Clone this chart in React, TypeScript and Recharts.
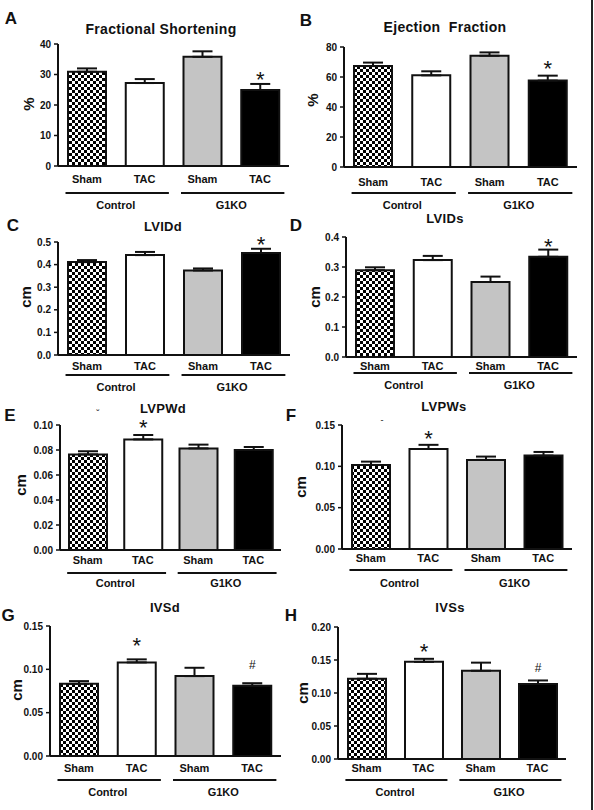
import { BarChart, Bar, XAxis, YAxis, ErrorBar, Cell, LabelList } from "recharts";

// shared categories
const conditions = ["Sham", "TAC", "Sham", "TAC"];
const genotypes = ["Control", "Control", "G1KO", "G1KO"];

// A - fractional shortening (%)
const fsMean = [30.9, 27.2, 35.8, 24.9];
const fsSem = [1.1, 1.3, 1.8, 2.0];
const fsMarks = ["", "", "", "*"];
const fsTicks = [0, 10, 20, 30, 40];

// B - ejection fraction (%)
const efMean = [67.3, 61.1, 74.2, 57.6];
const efSem = [2.3, 2.7, 2.2, 3.3];
const efMarks = ["", "", "", "*"];
const efTicks = [0, 20, 40, 60, 80];

// C - LVIDd (cm)
const lviddMean = [0.411, 0.442, 0.374, 0.451];
const lviddSem = [0.009, 0.014, 0.009, 0.019];
const lviddMarks = ["", "", "", "*"];
const lviddTicks = [0, 0.1, 0.2, 0.3, 0.4, 0.5];

// D - LVIDs (cm)
const lvidsMean = [0.289, 0.323, 0.25, 0.334];
const lvidsSem = [0.01, 0.014, 0.018, 0.024];
const lvidsMarks = ["", "", "", "*"];
const lvidsTicks = [0, 0.1, 0.2, 0.3, 0.4];

// E - LVPWd (cm)
const lvpwdMean = [0.0765, 0.0885, 0.0813, 0.08];
const lvpwdSem = [0.0025, 0.0035, 0.003, 0.0024];
const lvpwdMarks = ["", "*", "", ""];
const lvpwdTicks = [0, 0.02, 0.04, 0.06, 0.08, 0.1];

// F - LVPWs (cm)
const lvpwsMean = [0.1017, 0.121, 0.1078, 0.113];
const lvpwsSem = [0.004, 0.005, 0.004, 0.0044];
const lvpwsMarks = ["", "*", "", ""];
const lvpwsTicks = [0, 0.05, 0.1, 0.15];

// G - IVSd (cm)
const ivsdMean = [0.0833, 0.108, 0.0922, 0.081];
const ivsdSem = [0.0031, 0.0035, 0.0096, 0.003];
const ivsdMarks = ["", "*", "", "#"];
const ivsdTicks = [0, 0.05, 0.1, 0.15];

// H - IVSs (cm)
const ivssMean = [0.1216, 0.1472, 0.1337, 0.1136];
const ivssSem = [0.0074, 0.0046, 0.0123, 0.0054];
const ivssMarks = ["", "*", "", "#"];
const ivssTicks = [0, 0.05, 0.1, 0.15, 0.2];

const fills = ["url(#checker)", "#ffffff", "#c4c4c4", "#000000"];
const FONT = '"Liberation Sans", Arial, sans-serif';
const INK = "#111";

interface PanelSpec {
  letter: string;
  title: string;
  unit: string;
  mean: number[];
  sem: number[];
  marks: string[];
  ticks: number[];
  decimals: number;
  px: number;
  py: number;
  axisX: number;
  top: number;
  bottom: number;
  right: number;
  labelDy: number;
  lineDy: number;
  groupDy: number;
  markGap: number;
  letterPos: [number, number];
  titlePos: [number, number];
  unitPos: [number, number];
  titleSize: number;
}

const panels: PanelSpec[] = [
  {
    letter: "A", title: "Fractional Shortening", unit: "%",
    mean: fsMean, sem: fsSem, marks: fsMarks, ticks: fsTicks, decimals: 0,
    px: 0, py: 0, axisX: 58, top: 44, bottom: 166, right: 289,
    labelDy: 13, lineDy: 27, groupDy: 39, markGap: 9,
    letterPos: [11, 18], titlePos: [161, 29], unitPos: [28, 104], titleSize: 14,
  },
  {
    letter: "B", title: "Ejection  Fraction", unit: "%",
    mean: efMean, sem: efSem, marks: efMarks, ticks: efTicks, decimals: 0,
    px: 297, py: 0, axisX: 344, top: 47, bottom: 167, right: 577,
    labelDy: 15, lineDy: 26, groupDy: 38, markGap: 12,
    letterPos: [306, 20], titlePos: [445, 27], unitPos: [312, 100], titleSize: 14,
  },
  {
    letter: "C", title: "LVIDd", unit: "cm",
    mean: lviddMean, sem: lviddSem, marks: lviddMarks, ticks: lviddTicks, decimals: 1,
    px: 0, py: 200, axisX: 58, top: 242, bottom: 355, right: 290,
    labelDy: 11, lineDy: 20, groupDy: 32, markGap: 9,
    letterPos: [13, 225], titlePos: [163, 226], unitPos: [25, 297], titleSize: 13,
  },
  {
    letter: "D", title: "LVIDs", unit: "cm",
    mean: lvidsMean, sem: lvidsSem, marks: lvidsMarks, ticks: lvidsTicks, decimals: 1,
    px: 297, py: 200, axisX: 346, top: 237, bottom: 357, right: 577,
    labelDy: 9, lineDy: 16, groupDy: 28, markGap: 8,
    letterPos: [296, 225], titlePos: [445, 218], unitPos: [314, 297], titleSize: 13,
  },
  {
    letter: "E", title: "LVPWd", unit: "cm",
    mean: lvpwdMean, sem: lvpwdSem, marks: lvpwdMarks, ticks: lvpwdTicks, decimals: 2,
    px: 0, py: 400, axisX: 60, top: 425, bottom: 550, right: 281,
    labelDy: 10, lineDy: 23, groupDy: 33, markGap: 12,
    letterPos: [10, 415], titlePos: [163, 408], unitPos: [20, 485], titleSize: 13,
  },
  {
    letter: "F", title: "LVPWs", unit: "cm",
    mean: lvpwsMean, sem: lvpwsSem, marks: lvpwsMarks, ticks: lvpwsTicks, decimals: 2,
    px: 297, py: 400, axisX: 342, top: 425, bottom: 549, right: 572,
    labelDy: 9, lineDy: 21, groupDy: 34, markGap: 11,
    letterPos: [291, 415], titlePos: [444, 406], unitPos: [300, 487], titleSize: 13,
  },
  {
    letter: "G", title: "IVSd", unit: "cm",
    mean: ivsdMean, sem: ivsdSem, marks: ivsdMarks, ticks: ivsdTicks, decimals: 2,
    px: 0, py: 600, axisX: 50, top: 626, bottom: 756, right: 281,
    labelDy: 12, lineDy: 24, groupDy: 36, markGap: 18,
    letterPos: [8, 615], titlePos: [165, 607], unitPos: [16, 690], titleSize: 13,
  },
  {
    letter: "H", title: "IVSs", unit: "cm",
    mean: ivssMean, sem: ivssSem, marks: ivssMarks, ticks: ivssTicks, decimals: 2,
    px: 297, py: 600, axisX: 338, top: 627, bottom: 759, right: 566,
    labelDy: 9, lineDy: 21, groupDy: 33, markGap: 12,
    letterPos: [291, 615], titlePos: [450, 607], unitPos: [302, 693], titleSize: 13,
  },
];

const W = 297;
const H = 215;
const YW = 40;

function Panel({ p }: { p: PanelSpec }) {
  const data = conditions.map((c, i) => ({
    key: `${c}-${i}`,
    label: c,
    group: genotypes[i],
    value: p.mean[i],
    sem: p.sem[i],
    err: [0, p.sem[i]],
    mark: p.marks[i],
  }));
  const margin = { top: p.top - p.py, right: p.px + W - p.right, bottom: 0, left: p.axisX - p.px - YW };
  const band = (p.right - p.axisX) / data.length;
  const base = p.bottom - p.py;
  const maxTick = p.ticks[p.ticks.length - 1];

  const renderTick = (t: any) => {
    const i = t.index ?? t.payload?.index ?? 0;
    const x = Number(t.x);
    const d = data[i];
    return (
      <g key={`tick-${i}`}>
        <text x={x} y={base + p.labelDy} textAnchor="middle" dominantBaseline="central"
          fontFamily={FONT} fontWeight="bold" fontSize={11} fill={INK}>
          {d.label}
        </text>
        {i % 2 === 0 && (
          <>
            <line x1={x - band * 0.37} x2={x + band * 1.42} y1={base + p.lineDy} y2={base + p.lineDy}
              stroke={INK} strokeWidth={2} />
            <text x={x + band / 2} y={base + p.groupDy} textAnchor="middle" dominantBaseline="central"
              fontFamily={FONT} fontWeight="bold" fontSize={11} fill={INK}>
              {d.group}
            </text>
          </>
        )}
      </g>
    );
  };

  // significance marks sit a fixed gap above the error-bar cap
  const renderMark = (lp: any) => {
    const i = lp.index ?? 0;
    const d = data[i];
    if (!d || !d.mark) return null;
    const x = Number(lp.x) + Number(lp.width) / 2;
    const y = Number(lp.y);
    const h = Number(lp.height);
    const capY = y - (d.sem / d.value) * h;
    const cy = capY - p.markGap;
    if (d.mark === "*") {
      return (
        <text key={`m-${i}`} x={x} y={cy + 12} textAnchor="middle" fontFamily={FONT} fontSize={22} fill={INK}>
          *
        </text>
      );
    }
    return (
      <text key={`m-${i}`} x={x} y={cy + 4} textAnchor="middle" fontFamily={FONT} fontSize={12} fill={INK}>
        {d.mark}
      </text>
    );
  };

  const textStyle = (left: number, top: number, size: number): React.CSSProperties => ({
    position: "absolute",
    left,
    top,
    transform: "translate(-50%, -50%)",
    fontFamily: FONT,
    fontWeight: "bold",
    fontSize: size,
    lineHeight: 1,
    color: INK,
    whiteSpace: "pre",
  });

  return (
    <>
      <div style={{ position: "absolute", left: p.px, top: p.py, width: W, height: H }}>
        <BarChart width={W} height={H} data={data} margin={margin}>
          <XAxis
            dataKey="key"
            height={H - base}
            axisLine={{ stroke: INK, strokeWidth: 2 }}
            tickLine={false}
            tickSize={0}
            tickMargin={0}
            interval={0}
            tick={renderTick}
          />
          <YAxis
            width={YW}
            domain={[0, maxTick]}
            ticks={p.ticks}
            interval={0}
            allowDataOverflow
            axisLine={{ stroke: INK, strokeWidth: 2 }}
            tickLine={{ stroke: INK, strokeWidth: 1.5 }}
            tickSize={4}
            tickMargin={3}
            tickFormatter={(v: number) => v.toFixed(p.decimals)}
            tick={{ fontFamily: FONT, fontWeight: "bold", fontSize: 10, fill: INK }}
          />
          <Bar dataKey="value" barSize={38} stroke={INK} strokeWidth={2} isAnimationActive={false}>
            {data.map((d, i) => (
              <Cell key={`c-${i}`} fill={fills[i]} />
            ))}
            <ErrorBar dataKey="err" width={10} stroke={INK} strokeWidth={2} direction="y" />
            <LabelList dataKey="mark" content={renderMark} />
          </Bar>
        </BarChart>
      </div>
      <div style={textStyle(p.letterPos[0], p.letterPos[1], 17)}>{p.letter}</div>
      <div style={{ ...textStyle(p.titlePos[0], p.titlePos[1], p.titleSize), letterSpacing: 0.3 }}>{p.title}</div>
      <div style={{ ...textStyle(p.unitPos[0], p.unitPos[1], 15), transform: "translate(-50%, -50%) rotate(-90deg)" }}>
        {p.unit}
      </div>
    </>
  );
}

export default function App() {
  return (
    <div style={{ position: "absolute", left: 0, top: 0, width: 594, height: 810, overflow: "hidden", background: "#fff" }}>
      <svg width={0} height={0} style={{ position: "absolute" }}>
        <defs>
          <pattern id="checker" width={6} height={6} patternUnits="userSpaceOnUse">
            <rect width={6} height={6} fill="#fff" />
            <rect width={3} height={3} fill="#000" />
            <rect x={3} y={3} width={3} height={3} fill="#000" />
          </pattern>
        </defs>
      </svg>
      {panels.map((p) => (
        <Panel key={p.letter} p={p} />
      ))}
      <div style={{ position: "absolute", left: 98, top: 413, transform: "translate(-50%, -50%)", fontSize: 9, fontFamily: FONT, color: INK }}>˘</div>
      <div style={{ position: "absolute", left: 382, top: 420, transform: "translate(-50%, -50%)", fontSize: 9, fontFamily: FONT, color: INK }}>-</div>
      <div style={{ position: "absolute", left: 591, top: 0, width: 2, height: 810, background: "#222" }} />
    </div>
  );
}
